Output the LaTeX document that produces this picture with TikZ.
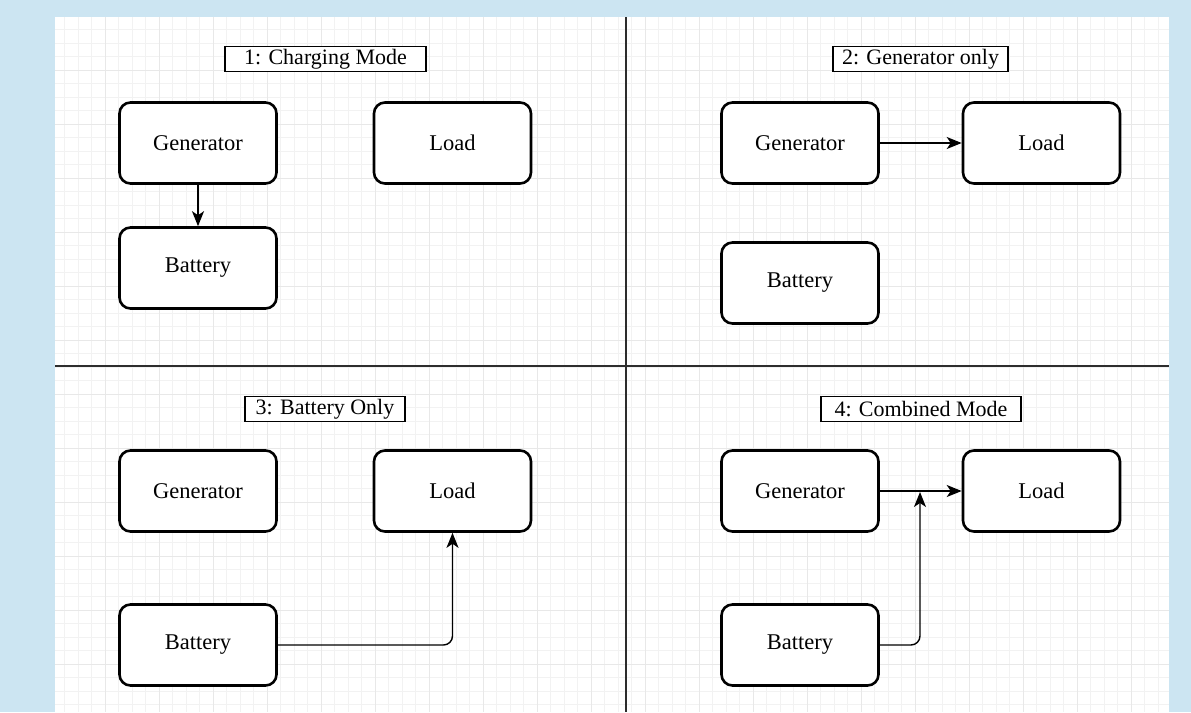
\documentclass[tikz,border=0pt]{standalone}
\usepackage{fontspec}
\setmainfont{Liberation Serif}
\usetikzlibrary{arrows.meta}
\definecolor{pagebg}{RGB}{204,229,242}
\definecolor{gridminor}{RGB}{242,242,242}
\definecolor{gridmajor}{RGB}{232,232,232}
\definecolor{divider}{RGB}{45,45,45}
\tikzset{
  box/.style={draw=black, line width=2.6pt, rounded corners=11pt, fill=white,
    minimum width=157pt, minimum height=81pt, inner sep=0pt,
    font=\fontsize{22.5}{25}\selectfont},
  titlebox/.style={draw=black, line width=1.1pt, fill=white, minimum height=25pt,
    inner sep=0pt, font=\fontsize{22}{25}\selectfont},
  flow/.style={line width=1.4pt, -{Stealth[length=15pt,width=12pt,inset=4pt]}},
  sep/.style={draw=divider, line width=1.8pt},
}
\begin{document}
\begin{tikzpicture}[x=1pt,y=-1pt]
  \useasboundingbox (0,0) rectangle (1191,712);
  \fill[pagebg] (0,0) rectangle (1191,712);
  \fill[white] (55,17) rectangle (1169,712);
  % background grid
  \begin{scope}
    \clip (55,17) rectangle (1169,712);
    \foreach \i in {0,...,84} {
      \draw[gridminor, line width=0.6pt] ({51+13.5*\i},17) -- ++(0,695);
    }
    \foreach \j in {0,...,52} {
      \draw[gridminor, line width=0.6pt] (55,{16+13.5*\j}) -- ++(1114,0);
    }
    \foreach \i in {0,...,21} {
      \draw[gridmajor, line width=0.8pt] ({51+54*\i},17) -- ++(0,695);
    }
    \foreach \j in {0,...,13} {
      \draw[gridmajor, line width=0.8pt] (55,{16+54*\j}) -- ++(1114,0);
    }
  \end{scope}
  % quadrant dividers
  \coordinate (vtop) at (626,17);
  \coordinate (vbot) at (626,712);
  \coordinate (hleft) at (55,366);
  \coordinate (hright) at (1169,366);
  \draw[sep] (vtop) -- (vbot);
  \draw[sep] (hleft) -- (hright);

  % 1: Charging Mode
  \node[titlebox, minimum width=201pt] (t1) at (325.5,59) {1: Charging Mode};
  \node[box] (gen1) at (198,143) {Generator};
  \node[box] (load1) at (452.5,143) {Load};
  \node[box] (bat1) at (198,268) {Battery};
  \draw[flow] (gen1) -- (bat1);

  % 2: Generator only
  \node[titlebox, minimum width=175pt] (t2) at (920.5,59) {2: Generator only};
  \node[box] (gen2) at (800,143) {Generator};
  \node[box] (load2) at (1041.5,143) {Load};
  \node[box] (bat2) at (800,283) {Battery};
  \draw[flow] (gen2) -- (load2);

  % 3: Battery Only
  \node[titlebox, minimum width=160pt] (t3) at (325,409) {3: Battery Only};
  \node[box] (gen3) at (198,491) {Generator};
  \node[box] (load3) at (452.5,491) {Load};
  \node[box] (bat3) at (198,645) {Battery};
  \draw[flow, rounded corners=9pt] (bat3.east) -| (load3.south);

  % 4: Combined Mode
  \node[titlebox, minimum width=200pt] (t4) at (921,409) {4: Combined Mode};
  \node[box] (gen4) at (800,491) {Generator};
  \node[box] (load4) at (1041.5,491) {Load};
  \node[box] (bat4) at (800,645) {Battery};
  \coordinate (join4) at (920,492);
  \draw[flow] (gen4) -- (load4);
  \draw[flow, rounded corners=9pt] (bat4.east) -| (join4);
\end{tikzpicture}
\end{document}
